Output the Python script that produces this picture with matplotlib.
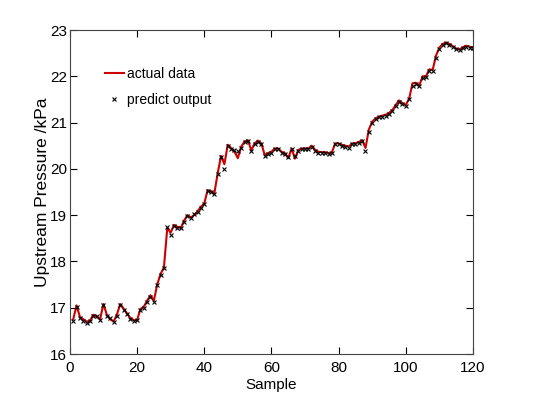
import matplotlib
matplotlib.use("Agg")
import matplotlib.pyplot as plt

plt.rcParams['font.family'] = ['Liberation Sans', 'DejaVu Sans']

samples = list(range(1, 121))
actual = [16.75, 17.05, 16.80, 16.75, 16.70, 16.72, 16.85, 16.80, 16.75, 17.08,
          16.85, 16.75, 16.70, 16.85, 17.08, 16.98, 16.88, 16.78, 16.73, 16.73,
          16.97, 17.02, 17.15, 17.27, 17.15, 17.50, 17.73, 17.87, 18.72, 18.62,
          18.79, 18.75, 18.72, 18.88, 19.00, 18.95, 19.00, 19.08, 19.18, 19.25,
          19.54, 19.52, 19.47, 19.90, 20.28, 20.10, 20.52, 20.45, 20.37, 20.23,
          20.48, 20.59, 20.62, 20.40, 20.55, 20.61, 20.55, 20.30, 20.34, 20.37,
          20.44, 20.44, 20.37, 20.34, 20.23, 20.44, 20.22, 20.41, 20.44, 20.44,
          20.44, 20.50, 20.41, 20.37, 20.36, 20.36, 20.34, 20.36, 20.55, 20.55,
          20.52, 20.50, 20.48, 20.55, 20.55, 20.58, 20.62, 20.45, 20.85, 21.02,
          21.09, 21.13, 21.15, 21.17, 21.21, 21.27, 21.38, 21.48, 21.42, 21.38,
          21.52, 21.85, 21.86, 21.80, 22.00, 22.00, 22.15, 22.14, 22.45, 22.62,
          22.70, 22.73, 22.70, 22.65, 22.60, 22.58, 22.63, 22.66, 22.64, 22.62]
predict = [16.72, 17.02, 16.78, 16.72, 16.68, 16.72, 16.83, 16.82, 16.73, 17.05,
           16.83, 16.77, 16.70, 16.83, 17.06, 16.95, 16.86, 16.76, 16.72, 16.74,
           16.95, 17.00, 17.13, 17.24, 17.13, 17.48, 17.71, 17.85, 18.74, 18.58,
           18.77, 18.73, 18.72, 18.86, 18.98, 18.93, 19.02, 19.06, 19.16, 19.23,
           19.52, 19.50, 19.46, 19.88, 20.26, 20.00, 20.50, 20.42, 20.40, 20.38,
           20.46, 20.57, 20.60, 20.38, 20.53, 20.59, 20.53, 20.28, 20.32, 20.35,
           20.42, 20.42, 20.35, 20.32, 20.26, 20.42, 20.28, 20.39, 20.42, 20.42,
           20.42, 20.48, 20.39, 20.35, 20.34, 20.34, 20.32, 20.34, 20.53, 20.53,
           20.50, 20.48, 20.46, 20.53, 20.53, 20.56, 20.60, 20.38, 20.80, 21.00,
           21.07, 21.11, 21.13, 21.15, 21.19, 21.25, 21.35, 21.45, 21.40, 21.36,
           21.50, 21.80, 21.84, 21.78, 21.96, 21.98, 22.12, 22.12, 22.40, 22.58,
           22.68, 22.71, 22.68, 22.63, 22.58, 22.56, 22.61, 22.64, 22.62, 22.62]

xticks = [0, 20, 40, 60, 80, 100, 120]
yticks = [16, 17, 18, 19, 20, 21, 22, 23]

fig = plt.figure(figsize=(5.5, 4), dpi=100)
ax = fig.add_axes([0.127, 0.115, 0.733, 0.81])
ax.plot(samples, actual, color='#cc0000', linewidth=1.5, label='actual data')
ax.plot(samples, predict, linestyle='none', marker='x', color='black',
        markersize=3.5, markeredgewidth=0.8, label='predict output')

ax.set_xlim(0, 120)
ax.set_ylim(16, 23)
ax.set_xticks(xticks)
ax.set_yticks(yticks)
ax.tick_params(direction='in', top=True, right=True, labelsize=11, length=5,
               colors='black')
ax.tick_params(axis='x', pad=5)
ax.tick_params(axis='y', pad=2)
for s in ax.spines.values():
    s.set_linewidth(0.8)
    s.set_color('#444444')
ax.set_xlabel('Sample', fontsize=11, labelpad=2)
ax.set_ylabel('Upstream Pressure /kPa', fontsize=12.5)
ax.yaxis.set_label_coords(-0.048, 0.5)
leg = ax.legend(loc='upper left', bbox_to_anchor=(0.055, 0.925), frameon=False,
                fontsize=10, handlelength=1.4, handletextpad=0.2,
                labelspacing=0.85)
fig.savefig('out.png', dpi=100)
